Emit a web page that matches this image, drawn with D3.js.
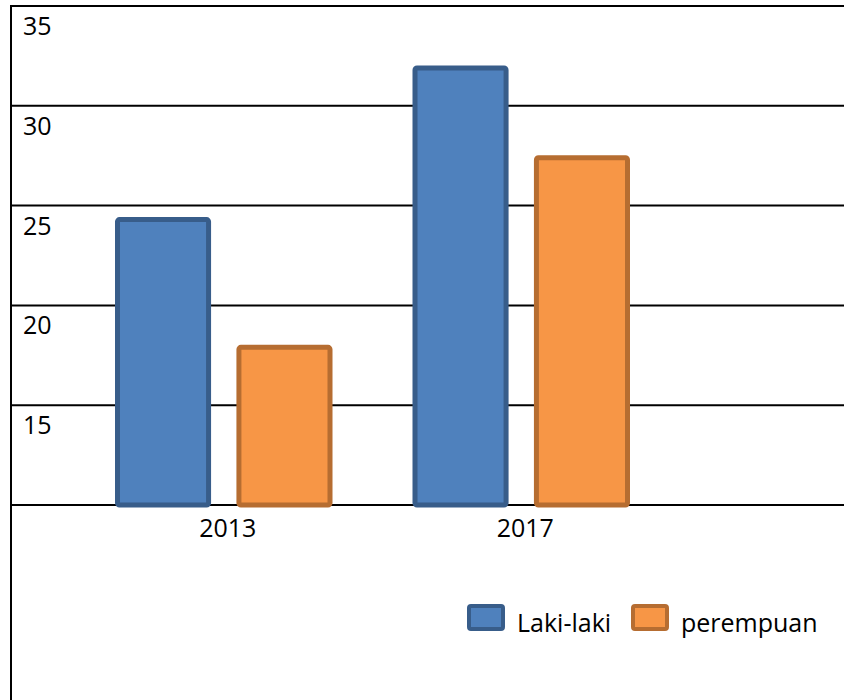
<!DOCTYPE html>
<html>
<head>
<meta charset="utf-8">
<script src="https://cdn.jsdelivr.net/npm/d3@7"></script>
<style>
  body { margin: 0; background: #fff; }
  text { font-family: "Open Sans", sans-serif; fill: #000; }
</style>
</head>
<body>
<div id="chart"></div>
<script>
// Chart data
const years = ["2013", "2017"];
const seriesNames = ["Laki-laki", "perempuan"];
const lakiValues = [24.3, 31.9];
const perempuanValues = [17.9, 27.4];
const yTicks = [10, 15, 20, 25, 30, 35];
const yTickLabels = ["", "15", "20", "25", "30", "35"];

const fills = ["#4f81bd", "#f79646"];
const strokes = ["#385d8a", "#b66d31"];

const width = 844, height = 700;
const plotLeft = 11, baseline = 505, plotTop = 6;

const svg = d3.select("#chart").append("svg")
    .attr("width", width)
    .attr("height", height);

// scales
const y = d3.scaleLinear().domain([10, 35]).range([baseline, plotTop]);
const x0 = d3.scaleBand().domain(years).range([75, 670]);
const x1 = d3.scaleBand().domain(seriesNames)
    .range([0, x0.bandwidth()])
    .paddingInner(0.25)
    .paddingOuter(0.35);

// gridlines + left border
svg.append("g").selectAll("line")
    .data(yTicks)
    .enter().append("line")
    .attr("x1", plotLeft)
    .attr("x2", width)
    .attr("y1", d => y(d))
    .attr("y2", d => y(d))
    .attr("stroke", "#000")
    .attr("stroke-width", 2);

svg.append("line")
    .attr("x1", plotLeft).attr("x2", plotLeft)
    .attr("y1", plotTop - 1).attr("y2", height)
    .attr("stroke", "#000")
    .attr("stroke-width", 2);

// y labels sit just below each gridline
svg.append("g").selectAll("text")
    .data(yTicks)
    .enter().append("text")
    .attr("x", 23)
    .attr("y", d => y(d) + 29)
    .attr("font-size", 25)
    .text((d, i) => yTickLabels[i]);

// bars
const rows = years.map((yr, i) => ({year: yr, values: [lakiValues[i], perempuanValues[i]]}));

const groups = svg.selectAll(".grp")
    .data(rows)
    .enter().append("g")
    .attr("class", "grp")
    .attr("transform", d => "translate(" + x0(d.year) + ",0)");

groups.selectAll("rect")
    .data(d => d.values.map((v, i) => ({name: seriesNames[i], value: v, i: i})))
    .enter().append("rect")
    .attr("x", d => x1(d.name))
    .attr("y", d => y(d.value))
    .attr("width", x1.bandwidth())
    .attr("height", d => baseline - y(d.value))
    .attr("rx", 2)
    .attr("fill", d => fills[d.i])
    .attr("stroke", d => strokes[d.i])
    .attr("stroke-width", 5);

// x labels
svg.append("g").selectAll("text")
    .data(years)
    .enter().append("text")
    .attr("x", d => x0(d) + x0.bandwidth() / 2 + 4)
    .attr("y", baseline + 32)
    .attr("text-anchor", "middle")
    .attr("font-size", 25)
    .text(d => d);

// legend
const legendX = [469, 633];
const legend = svg.append("g").selectAll("g")
    .data(seriesNames)
    .enter().append("g")
    .attr("transform", (d, i) => "translate(" + legendX[i] + ",606)");

legend.append("rect")
    .attr("width", 34)
    .attr("height", 23)
    .attr("rx", 2)
    .attr("fill", (d, i) => fills[i])
    .attr("stroke", (d, i) => strokes[i])
    .attr("stroke-width", 4);

legend.append("text")
    .attr("x", 48)
    .attr("y", 26)
    .attr("font-size", 25)
    .text(d => d);
</script>
</body>
</html>
